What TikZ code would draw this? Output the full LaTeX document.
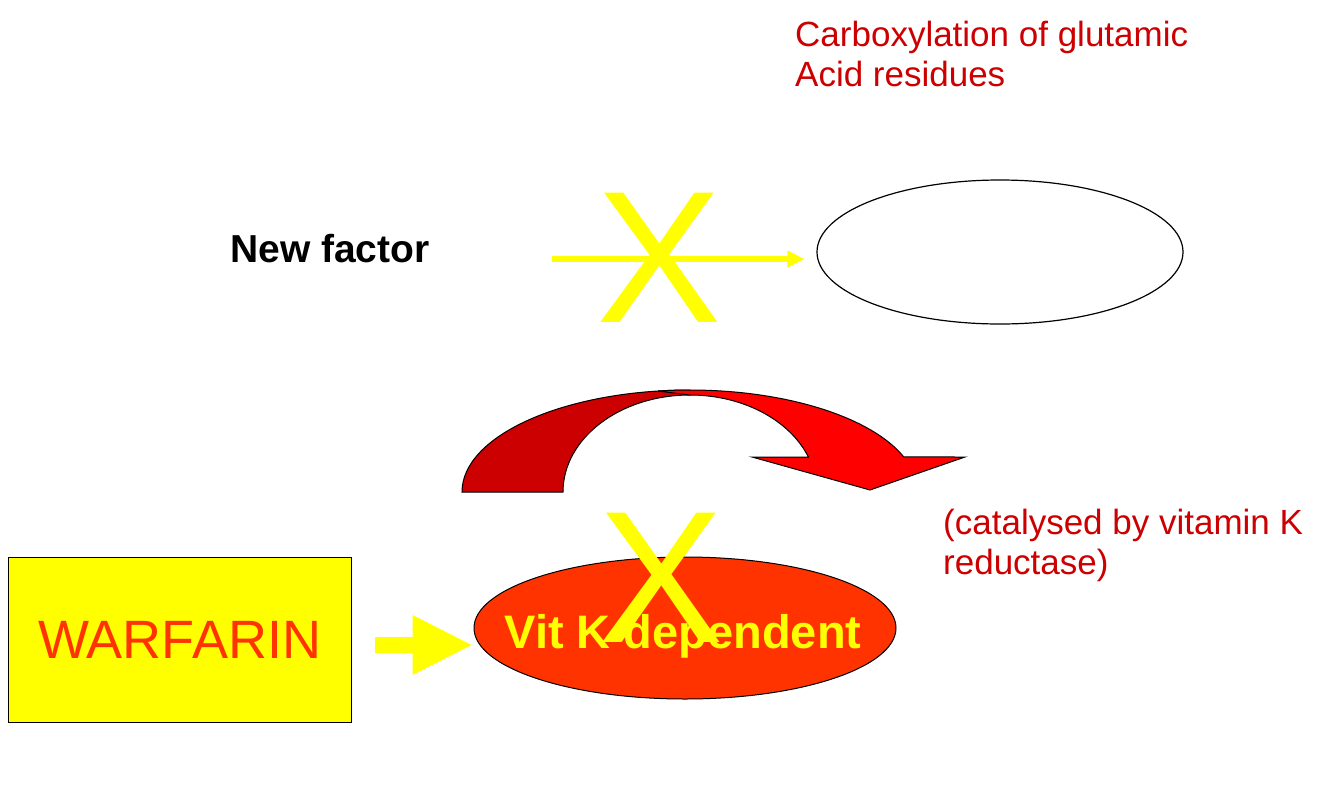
\documentclass[tikz,border=0pt]{standalone}
\usepackage{fontspec}
\setmainfont{Liberation Sans}
\usetikzlibrary{arrows.meta,calc,shapes.geometric}
\definecolor{NoteClr}{RGB}{204,0,0}
\definecolor{BandClr}{RGB}{255,0,0}
\definecolor{FactorClr}{RGB}{255,51,0}
\definecolor{MarkClr}{RGB}{255,255,0}

\begin{document}
\begin{tikzpicture}[x=1pt,y=-1pt,
  note/.style={anchor=north west,inner sep=0pt,align=left,text=NoteClr,font=\fontsize{35}{40}\selectfont},
  cross/.style={inner sep=0pt,text=MarkClr,font=\fontsize{188}{188}\selectfont}]
\useasboundingbox (0,0) rectangle (1334,801);

\node[note] (carbox) at (795,21) {Carboxylation of glutamic\\Acid residues};
\node[note] (reduct) at (943,509) {(catalysed by vitamin K\\reductase)};

\node[anchor=base west,inner sep=0pt,font=\fontsize{39}{39}\selectfont\bfseries] (newf) at (230,262) {New factor};
\node[ellipse,draw,line width=1.2pt,fill=white,minimum width=366,minimum height=144,inner sep=0pt] (carb) at (1000,252) {};

\coordinate (s1) at (552,259);
\draw[MarkClr,line width=6pt,-{Triangle[length=17pt,width=16pt]},shorten >=12pt] (s1) -- (s1 -| carb.west);
\node[cross] (xtop) at (659,258) {X};

% curved arrow, back half then front half
\filldraw[fill=NoteClr,draw=black,line width=1pt] (462,492)
  arc[start angle=180,end angle=270,x radius=228,y radius=102] -- (690,395)
  arc[start angle=270,end angle=180,x radius=127,y radius=97] -- cycle;
\filldraw[fill=BandClr,draw=black,line width=1pt] (658,391)
  arc[start angle=262,end angle=339.9,x radius=228,y radius=102]
  -- (965,457) -- (870,490) -- (752,457) -- (808.4,457)
  arc[start angle=338.85,end angle=270,x radius=127,y radius=97] -- cycle;

\node[draw,line width=1pt,fill=MarkClr,minimum width=343,minimum height=165,inner sep=0pt,
  text=FactorClr,font=\fontsize{54}{54}\selectfont] (warf) at (179.5,639.5) {WARFARIN};
\node[ellipse,draw,line width=1pt,fill=FactorClr,minimum width=422,minimum height=142,inner sep=0pt] (vitk) at (685,628) {};
\node[anchor=base,inner sep=0pt,text=MarkClr,font=\fontsize{47}{47}\selectfont\bfseries] (vitklbl) at (683,648) {Vit K dependent};

\coordinate (wtail) at (375,645);
\coordinate (wtip) at ($(vitk.west)+(-2,17)$);
\fill[MarkClr] ($(wtail)+(0,-8)$) -- ($(wtip)+(-59,-8)$) -- ($(wtip)+(-59,-30)$) -- (wtip)
  -- ($(wtip)+(-59,30)$) -- ($(wtip)+(-59,8)$) -- ($(wtail)+(0,8)$) -- cycle;
\node[cross] (xlow) at (661,578) {X};
\end{tikzpicture}
\end{document}
